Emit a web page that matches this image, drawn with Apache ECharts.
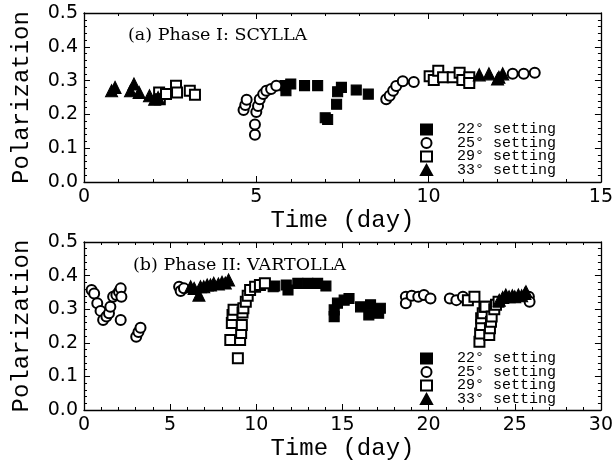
<!DOCTYPE html>
<html>
<head>
<meta charset="utf-8">
<script src="https://cdn.jsdelivr.net/npm/echarts@6/dist/echarts.min.js"></script>
<style>
  html, body { margin: 0; padding: 0; background: #fff; }
  #main { width: 616px; height: 465px; }
</style>
</head>
<body>
<div id="main"></div>
<script>
// settings shown in the legend
var settings = ['22° setting', '25° setting', '29° setting', '33° setting'];
var yTicks = [0.0, 0.1, 0.2, 0.3, 0.4, 0.5];

// (a) Phase I: SCYLLA  -- [day, polarization]
var a22 = [[5.83, 0.285], [5.86, 0.27], [6.0, 0.29], [6.4, 0.285], [6.78, 0.285],
  [7.0, 0.19], [7.07, 0.185], [7.33, 0.23], [7.36, 0.267], [7.47, 0.28], [7.9, 0.272], [8.25, 0.26]];
var a25 = [[4.63, 0.213], [4.68, 0.228], [4.72, 0.243], [4.96, 0.14], [4.96, 0.17], [5.0, 0.207],
  [5.05, 0.225], [5.1, 0.245], [5.2, 0.26], [5.29, 0.27], [5.43, 0.275], [5.58, 0.285],
  [8.77, 0.245], [8.87, 0.255], [8.97, 0.27], [9.06, 0.284], [9.25, 0.298], [9.57, 0.296],
  [12.44, 0.32], [12.76, 0.32], [13.08, 0.323]];
var a29 = [[2.18, 0.265], [2.2, 0.245], [2.38, 0.26], [2.67, 0.285], [2.7, 0.265], [3.07, 0.27], [3.22, 0.258],
  [10.03, 0.313], [10.15, 0.302], [10.28, 0.329], [10.42, 0.31], [10.7, 0.31], [10.9, 0.323],
  [10.98, 0.302], [11.18, 0.31], [11.18, 0.293]];
var a33 = [[0.8, 0.27], [0.9, 0.28], [1.35, 0.27], [1.45, 0.29], [1.6, 0.265], [1.9, 0.255],
  [2.05, 0.245], [2.15, 0.25], [11.47, 0.317], [11.75, 0.32], [12.0, 0.305], [12.04, 0.31], [12.15, 0.32]];

// (b) Phase II: VARTOLLA
var b22 = [[10.98, 0.367], [11.07, 0.369], [11.74, 0.372], [11.84, 0.357], [12.41, 0.377], [12.99, 0.377],
  [13.56, 0.377], [14.04, 0.369], [14.52, 0.278], [14.52, 0.298], [14.71, 0.318], [15.1, 0.327],
  [15.38, 0.332], [16.05, 0.307], [16.53, 0.283], [16.63, 0.313], [17.1, 0.288], [17.2, 0.303]];
var b25 = [[0.44, 0.357], [0.59, 0.347], [0.77, 0.318], [0.96, 0.295], [1.11, 0.268], [1.3, 0.278],
  [1.45, 0.288], [1.53, 0.307], [1.69, 0.337], [1.88, 0.342], [2.03, 0.352], [2.13, 0.362],
  [2.17, 0.337], [2.13, 0.268], [3.03, 0.218], [3.16, 0.232], [3.28, 0.245],
  [5.52, 0.367], [5.61, 0.354], [5.8, 0.362],
  [18.68, 0.337], [18.68, 0.318], [19.02, 0.34], [19.4, 0.337], [19.73, 0.342], [20.11, 0.332],
  [21.23, 0.332], [21.61, 0.327], [21.99, 0.337], [25.82, 0.337], [25.86, 0.322]];
var b29 = [[8.49, 0.208], [8.58, 0.259], [8.62, 0.283], [8.68, 0.298], [8.93, 0.154], [9.06, 0.208],
  [9.12, 0.229], [9.16, 0.253], [9.2, 0.29], [9.25, 0.303], [9.39, 0.322], [9.5, 0.34], [9.64, 0.357],
  [9.93, 0.367], [10.21, 0.372], [10.5, 0.377],
  [22.28, 0.327], [22.66, 0.337], [22.95, 0.203], [22.99, 0.228], [23.05, 0.253], [23.05, 0.273],
  [23.14, 0.288], [23.24, 0.307], [23.3, 0.307], [23.52, 0.223], [23.56, 0.243], [23.62, 0.263],
  [23.66, 0.278], [23.81, 0.3], [23.91, 0.313], [24.06, 0.322]];
var b33 = [[6.19, 0.367], [6.39, 0.362], [6.67, 0.342], [6.76, 0.367], [6.95, 0.367], [7.15, 0.372],
  [7.34, 0.372], [7.53, 0.377], [7.8, 0.375], [8.01, 0.38], [8.2, 0.378], [8.39, 0.387],
  [24.1, 0.327], [24.3, 0.335], [24.48, 0.342], [24.67, 0.337], [24.86, 0.34], [25.0, 0.337],
  [25.21, 0.342], [25.4, 0.34], [25.59, 0.347], [25.65, 0.352]];

var panelA = [a22, a25, a29, a33];
var panelB = [b22, b25, b29, b33];
var symbols = ['rect', 'emptyCircle', 'emptyRect', 'triangle'];
var sizes = [10, 10, 10, 12];

var monoFont = 'Liberation Mono';
var tickFont = 'DejaVu Sans';

function xAxes(gridIndex, max) {
  var base = {
    type: 'value', gridIndex: gridIndex, min: 0, max: max, interval: 5,
    axisLine: { show: true, onZero: false, lineStyle: { color: '#000', width: 1.3 } },
    axisTick: { show: true, inside: true, length: 6, lineStyle: { color: '#000' } },
    minorTick: { show: true, splitNumber: 5, length: 3, lineStyle: { color: '#000' } },
    splitLine: { show: false }
  };
  var bottom = Object.assign({}, base, {
    position: 'bottom',
    axisLabel: { color: '#000', fontFamily: tickFont, fontSize: 19, margin: 6 },
    name: 'Time (day)', nameLocation: 'middle', nameGap: 27,
    nameTextStyle: { color: '#000', fontFamily: monoFont, fontSize: 24 }
  });
  var top = Object.assign({}, base, { position: 'top', axisLabel: { show: false } });
  return [bottom, top];
}

function yAxes(gridIndex) {
  var base = {
    type: 'value', gridIndex: gridIndex, min: 0, max: 0.5, interval: 0.1,
    axisLine: { show: true, onZero: false, lineStyle: { color: '#000', width: 1.3 } },
    axisTick: { show: true, inside: true, length: 6, lineStyle: { color: '#000' } },
    minorTick: { show: true, splitNumber: 5, length: 3, lineStyle: { color: '#000' } },
    splitLine: { show: false }
  };
  var left = Object.assign({}, base, {
    position: 'left',
    axisLabel: {
      color: '#000', fontFamily: tickFont, fontSize: 19, margin: 6,
      formatter: function (v) { return v.toFixed(1); }
    },
    name: 'Polarization', nameLocation: 'middle', nameGap: 50,
    nameTextStyle: { color: '#000', fontFamily: monoFont, fontSize: 24 }
  });
  var right = Object.assign({}, base, { position: 'right', axisLabel: { show: false } });
  return [left, right];
}

function makeSeries(data, xIdx, yIdx) {
  return data.map(function (pts, i) {
    return {
      name: settings[i], type: 'scatter', xAxisIndex: xIdx, yAxisIndex: yIdx,
      symbol: symbols[i], symbolSize: sizes[i],
      itemStyle: { color: '#000', borderColor: '#000', borderWidth: 1.1, opacity: 1 },
      emphasis: { disabled: true },
      data: pts
    };
  });
}

function makeLegend(top) {
  return {
    orient: 'vertical', left: 420, top: top, itemGap: -1.5, padding: 0,
    itemWidth: 11, itemHeight: 10,
    data: settings,
    textStyle: { color: '#000', fontFamily: monoFont, fontSize: 15, lineHeight: 12.5, padding: [0, 0, 0, 20] }
  };
}

var chart = echarts.init(document.getElementById('main'));
chart.setOption({
  animation: false,
  backgroundColor: '#fff',
  grid: [
    { left: 84, top: 13, right: 10, height: 169 },
    { left: 84, top: 242, right: 10, height: 168 }
  ],
  xAxis: xAxes(0, 15).concat(xAxes(1, 30)),
  yAxis: yAxes(0).concat(yAxes(1)),
  legend: [makeLegend(122), makeLegend(351)],
  graphic: [
    { type: 'text', left: 128, top: 26, style: { text: '(a) Phase I: SCYLLA', fontFamily: 'DejaVu Serif', fontSize: 17.5, fill: '#000' } },
    { type: 'text', left: 133, top: 256, style: { text: '(b) Phase II: VARTOLLA', fontFamily: 'DejaVu Serif', fontSize: 17.5, fill: '#000' } }
  ],
  series: makeSeries(panelA, 0, 0).concat(makeSeries(panelB, 2, 2))
});
</script>
</body>
</html>
